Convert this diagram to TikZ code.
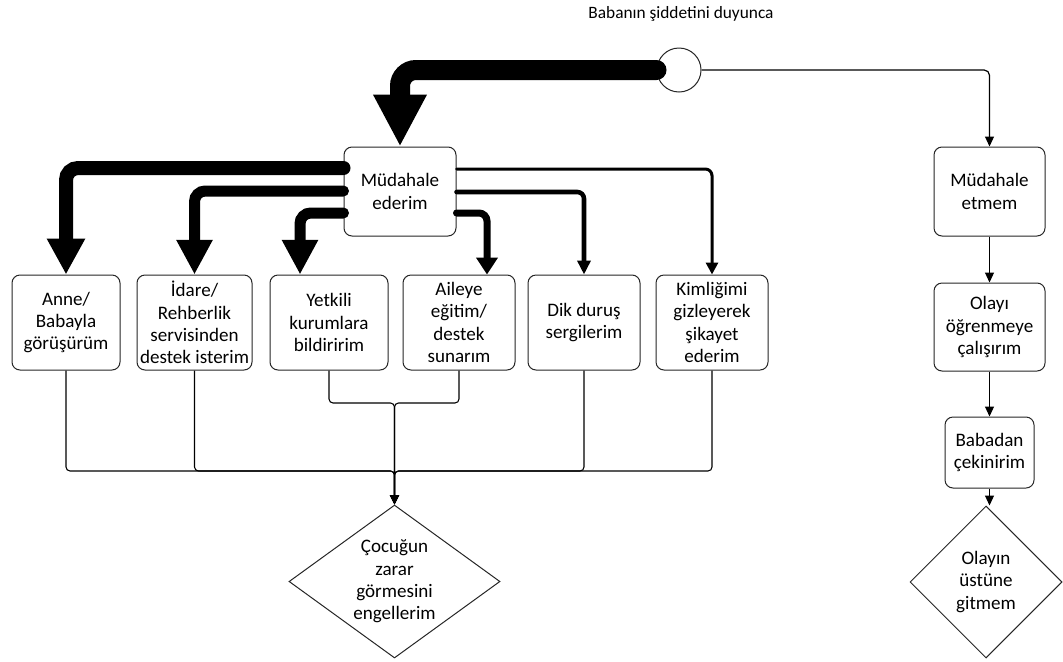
\documentclass[tikz,border=0pt]{standalone}
\usepackage{fontspec}
\setmainfont{Carlito}
\usetikzlibrary{arrows.meta,shapes.geometric,calc}
\begin{document}
\begin{tikzpicture}[x=0.75pt,y=-0.75pt,
  txt/.style={font=\fontsize{14.3}{16.7}\selectfont, align=center},
  box/.style args={#1x#2}{txt, draw=black!85, line width=0.75pt, rounded corners=6pt, fill=white,
    inner sep=0pt, minimum width=#1*0.75pt, minimum height=#2*0.75pt},
  dia/.style={txt, diamond, draw=black!85, line width=0.75pt, fill=white, inner sep=0pt},
  cw0/.style={line width=15pt, line cap=round, rounded corners=12pt, -{Triangle[length=39pt,width=37.5pt]}},
  cw1/.style={line width=10.5pt, line cap=round, rounded corners=9pt, -{Triangle[length=27pt,width=27pt]}},
  cw2/.style={line width=8.25pt, line cap=round, rounded corners=8pt, -{Triangle[length=26pt,width=25.5pt]}},
  cw3/.style={line width=5.25pt, line cap=round, rounded corners=6pt, -{Triangle[length=12.75pt,width=15.75pt]}},
  cw4/.style={line width=3.4pt, line cap=round, rounded corners=5pt, -{Triangle[length=10.5pt,width=9.75pt]}},
  cw5/.style={line width=2.25pt, line cap=round, rounded corners=5pt, -{Triangle[length=9pt,width=9pt]}},
  cw6/.style={line width=0.9pt, rounded corners=4pt, -{Triangle[length=7.5pt,width=6.75pt]}},
  cmerge/.style={line width=0.8pt, rounded corners=3pt, -{Triangle[length=7pt,width=6.75pt]}}
]
\useasboundingbox (0,0) rectangle (1063,661);

% top label and start circle
\node[font=\fontsize{13}{15.6}\selectfont] (lbl) at (681,14) {Babanın şiddetini duyunca};
\node[circle, draw=black!85, line width=0.75pt, fill=white, inner sep=0pt, minimum size=33pt] (c) at (679,70) {};

% boxes
\node[box=112x89] (md) at (400,191.5) {Müdahale\\ederim};
\node[box=111x89] (me) at (989.5,191.5) {Müdahale\\etmem};
\node[box=108x95] (b1) at (66,322.5) {Anne/\\Babayla\\görüşürüm};
\node[box=115x95] (b2) at (194.5,322.5) {İdare/\\Rehberlik\\servisinden\\destek isterim};
\node[box=118x95] (b3) at (329,322.5) {Yetkili\\kurumlara\\bildiririm};
\node[box=112x95] (b4) at (459,322.5) {Aileye\\eğitim/\\destek\\sunarım};
\node[box=112x95] (b5) at (584,322.5) {Dik duruş\\sergilerim};
\node[box=112x95] (b6) at (712,322.5) {Kimliğimi\\gizleyerek\\şikayet\\ederim};
\node[box=111x88] (ol) at (989.5,327) {Olayı\\öğrenmeye\\çalışırım};
\node[box=89x71] (bb) at (989.5,452.5) {Babadan\\çekinirim};
\node[dia, aspect=1.38, minimum width=158.25pt, minimum height=114.75pt] (d1) at (394.5,581.5) {Çocuğun\\zarar\\görmesini\\engellerim};
\node[dia, aspect=1, minimum width=114pt, minimum height=114pt] (d2) at (986,582) {Olayın\\üstüne\\gitmem};

% connectors from the circle
\draw[cw0] (c.west) -| (md.north);
\draw[cw6] (c.east) -| (me.north);

% connectors from Müdahale ederim
\draw[cw1] (md.west |- 0,168) -| (b1.north);
\draw[cw2] (md.west |- 0,191) -| (b2.north);
\draw[cw2] (md.west |- 0,213) -| (b3.north -| 300,0);
\draw[cw3] (md.east |- 0,213) -| (b4.north -| 487,0);
\draw[cw4] (md.east |- 0,192) -| (b5.north);
\draw[cw5] (md.east |- 0,169) -| (b6.north);

% merging connectors
\coordinate (j1) at (d1.north |- 0,403);
\coordinate (j2) at (d1.north |- 0,471);
\draw[cmerge] (b1.south) |- (j2) -- (d1.north);
\draw[cmerge] (b2.south) |- (j2) -- (d1.north);
\draw[cmerge] (b3.south) |- (j1) -- (d1.north);
\draw[cmerge] (b4.south) |- (j1) -- (d1.north);
\draw[cmerge] (b5.south) |- (j2) -- (d1.north);
\draw[cmerge] (b6.south) |- (j2) -- (d1.north);

% right column
\draw[cw6] (me.south) -- (ol.north);
\draw[cw6] (ol.south) -- (bb.north);
\draw[cw6] (bb.south) -- (bb.south |- d2.north);
\end{tikzpicture}
\end{document}
